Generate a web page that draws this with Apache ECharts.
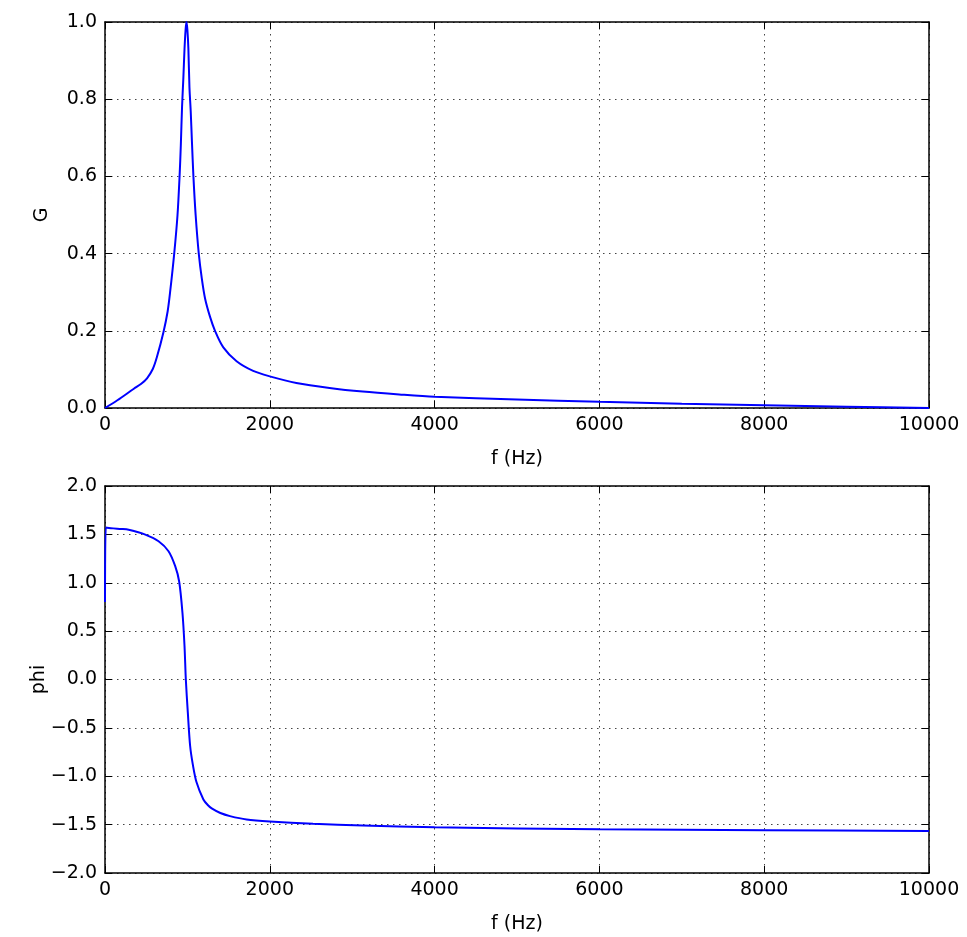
<!DOCTYPE html>
<html>
<head>
<meta charset="utf-8">
<script src="https://cdn.jsdelivr.net/npm/echarts@6/dist/echarts.min.js"></script>
<style>
  html, body { margin: 0; padding: 0; background: #fff; }
  #chart { width: 967px; height: 937px; }
</style>
</head>
<body>
<div id="chart"></div>
<script>
// ---- data ----
const freqG = [0, 150, 350, 440, 510, 580, 630, 710, 760, 790, 840, 880, 905, 920, 935, 950, 965, 978, 988, 1000, 1012, 1025, 1040, 1055, 1073, 1100, 1138, 1175, 1215, 1275, 1335, 1436, 1597, 1798, 2000, 2322, 2725, 3128, 3571, 4000, 5000, 6000, 7000, 8000, 9000, 10000];
const gainG = [0, 0.02, 0.05, 0.063, 0.077, 0.101, 0.132, 0.197, 0.25, 0.30, 0.40, 0.50, 0.60, 0.68, 0.78, 0.85, 0.93, 0.98, 1.0, 0.98, 0.93, 0.83, 0.77, 0.69, 0.60, 0.50, 0.40, 0.335, 0.283, 0.236, 0.2, 0.157, 0.121, 0.096, 0.082, 0.065, 0.052, 0.0425, 0.035, 0.029, 0.022, 0.016, 0.011, 0.007, 0.0035, 0];

const freqPhi = [0, 10, 100, 200, 288, 489, 650, 771, 852, 900, 940, 965, 981, 1005, 1033, 1066, 1110, 1194, 1250, 1300, 1400, 1517, 1718, 2000, 2524, 3128, 4000, 6000, 8000, 10000];
const phiVals = [0.8, 1.57, 1.562, 1.556, 1.547, 1.498, 1.429, 1.326, 1.171, 1.013, 0.69, 0.346, 0, -0.34, -0.685, -0.88, -1.06, -1.24, -1.30, -1.335, -1.38, -1.412, -1.447, -1.468, -1.492, -1.509, -1.527, -1.548, -1.558, -1.566];

const xTicks = [0, 2000, 4000, 6000, 8000, 10000];
const gTicks = [0.0, 0.2, 0.4, 0.6, 0.8, 1.0];
const phiTicks = [-2.0, -1.5, -1.0, -0.5, 0.0, 0.5, 1.0, 1.5, 2.0];

// ---- chart ----
const FONT = 'DejaVu Sans';
const FS = 19;
const fmt1 = v => v.toFixed(1).replace('-', '\u2212');
const fmt0 = v => String(Math.round(v));

function xAx(gridIndex, main) {
  return {
    type: 'value', gridIndex: gridIndex, position: main ? 'bottom' : 'top',
    min: xTicks[0], max: xTicks[xTicks.length - 1], interval: xTicks[1] - xTicks[0],
    name: main ? 'f (Hz)' : '', nameLocation: 'middle', nameGap: 42, nameMoveOverlap: false,
    nameTextStyle: { color: '#000', fontFamily: FONT, fontSize: FS },
    axisLine: { show: true, onZero: false, lineStyle: { color: '#000', width: 1.5 } },
    axisTick: { show: true, inside: true, length: 7, lineStyle: { color: '#000', width: 1 } },
    axisLabel: { show: main, color: '#000', fontFamily: FONT, fontSize: FS, margin: 8, formatter: fmt0 },
    splitLine: { show: main, lineStyle: { color: '#444', width: 1, type: [1.5, 4.5] } }
  };
}
function yAx(gridIndex, main, ticks, name, gap) {
  return {
    type: 'value', gridIndex: gridIndex, position: main ? 'left' : 'right',
    min: ticks[0], max: ticks[ticks.length - 1], interval: ticks[1] - ticks[0],
    name: main ? name : '', nameLocation: 'middle', nameGap: gap, nameMoveOverlap: false,
    nameTextStyle: { color: '#000', fontFamily: FONT, fontSize: FS },
    axisLine: { show: true, onZero: false, lineStyle: { color: '#000', width: 1.5 } },
    axisTick: { show: true, inside: true, length: 7, lineStyle: { color: '#000', width: 1 } },
    axisLabel: { show: main, color: '#000', fontFamily: FONT, fontSize: FS, margin: 8, formatter: fmt1 },
    splitLine: { show: main, lineStyle: { color: '#444', width: 1, type: [1.5, 4.5] } }
  };
}

const chart = echarts.init(document.getElementById('chart'), null, { renderer: 'canvas' });
chart.setOption({
  backgroundColor: '#fff',
  animation: false,
  grid: [
    { left: 105, right: 38, top: 22, height: 386 },
    { left: 105, right: 38, top: 486, height: 387 }
  ],
  xAxis: [xAx(0, true), xAx(0, false), xAx(1, true), xAx(1, false)],
  yAxis: [yAx(0, true, gTicks, 'G', 53), yAx(0, false, gTicks, '', 0), yAx(1, true, phiTicks, 'phi', 56), yAx(1, false, phiTicks, '', 0)],
  series: [
    {
      type: 'line', xAxisIndex: 0, yAxisIndex: 0, showSymbol: false,
      smooth: 0.3,
      lineStyle: { color: '#0000ff', width: 2 },
      data: freqG.map((f, i) => [f, gainG[i]])
    },
    {
      type: 'line', xAxisIndex: 2, yAxisIndex: 2, showSymbol: false,
      smooth: 0.3,
      lineStyle: { color: '#0000ff', width: 2 },
      data: freqPhi.map((f, i) => [f, phiVals[i]])
    }
  ]
});
</script>
</body>
</html>
